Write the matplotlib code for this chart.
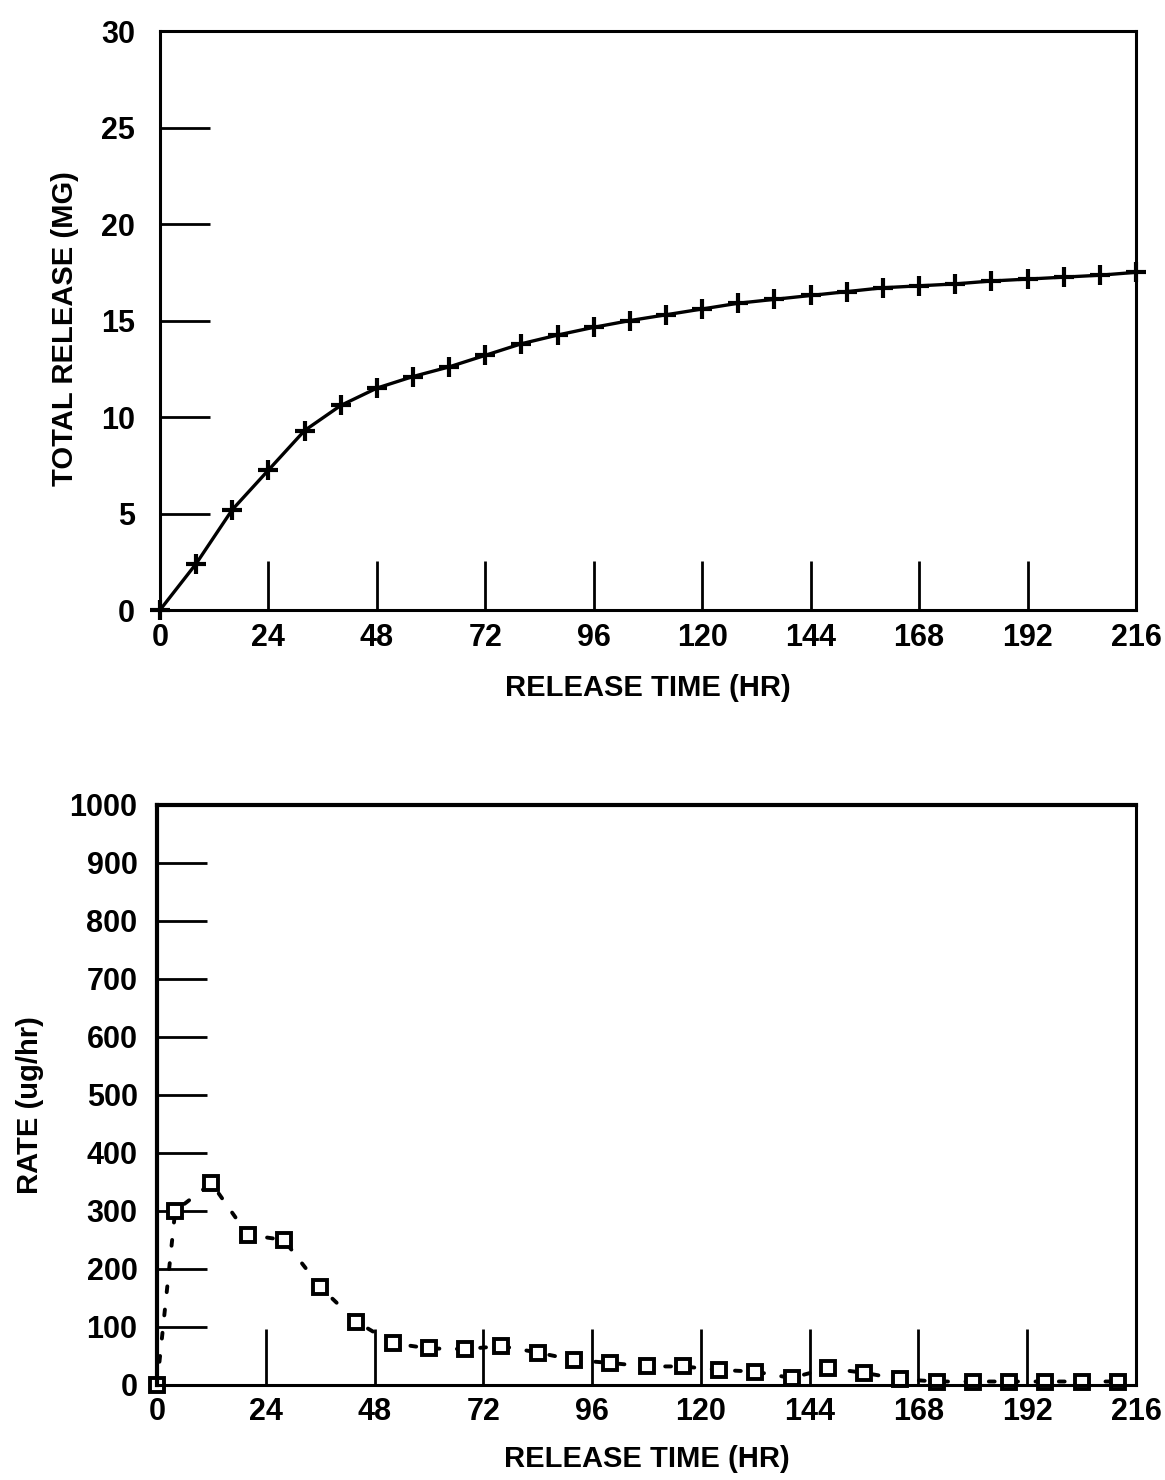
import matplotlib
matplotlib.use("Agg")
import matplotlib.pyplot as plt

# cumulative release, sampled every 8 h
hours_total = [0, 8, 16, 24, 32, 40, 48, 56, 64, 72, 80, 88, 96, 104,
               112, 120, 128, 136, 144, 152, 160, 168, 176, 184, 192, 200, 208, 216]
total_mg = [0, 2.4, 5.2, 7.25, 9.3, 10.6, 11.5, 12.1, 12.6, 13.2, 13.8, 14.25, 14.65, 15.0,
            15.3, 15.6, 15.9, 16.1, 16.3, 16.5, 16.7, 16.8, 16.9, 17.05, 17.15, 17.25, 17.35, 17.5]

# release rate at interval midpoints
hours_rate = [0, 4, 12, 20, 28, 36, 44, 52, 60, 68, 76, 84, 92, 100,
              108, 116, 124, 132, 140, 148, 156, 164, 172, 180, 188, 196, 204, 212]
rate_ug_hr = [0, 300, 348, 259, 250, 169, 109, 72, 63, 62, 67, 56, 43, 38,
              32, 32, 26, 23, 12, 29, 21, 10, 6, 6, 6, 6, 6, 6]

x_ticks = [0, 24, 48, 72, 96, 120, 144, 168, 192, 216]
total_ticks = [0, 5, 10, 15, 20, 25, 30]
rate_ticks = [0, 100, 200, 300, 400, 500, 600, 700, 800, 900, 1000]

plt.rcParams['font.family'] = ['Liberation Sans', 'DejaVu Sans']
plt.rcParams['font.weight'] = 'bold'
plt.rcParams['axes.labelweight'] = 'bold'

FS_TICK = 22
FS_LABEL = 21

fig = plt.figure(figsize=(11.65, 14.80), dpi=100)
ax1 = fig.add_axes([0.1373, 0.5878, 0.8378, 0.3912])
ax2 = fig.add_axes([0.1348, 0.0642, 0.8403, 0.3919])


def style_axes(ax, ylen, xlen, ypad, xpad):
    for side in ['left', 'bottom', 'top', 'right']:
        ax.spines[side].set_linewidth(2.2)
    ax.tick_params(axis='y', direction='in', length=ylen, width=2.0,
                   pad=ypad, labelsize=FS_TICK, right=False)
    ax.tick_params(axis='x', direction='in', length=xlen, width=2.0,
                   pad=xpad, labelsize=FS_TICK, top=False)
    ax.set_xticks(x_ticks)
    ax.set_xlim(0, 216)


# top: total release
ax1.plot(hours_total, total_mg, color='black', lw=2.4, marker='+',
         ms=14, mew=3, clip_on=False)
ax1.set_ylim(0, 30)
ax1.set_yticks(total_ticks)
style_axes(ax1, 36, 35, 18, 9)
ax1.set_xlabel('RELEASE TIME (HR)', fontsize=FS_LABEL, va='center')
ax1.xaxis.set_label_coords(0.5, -0.135)
ax1.set_ylabel('TOTAL RELEASE (MG)', fontsize=FS_LABEL, va='center')
ax1.yaxis.set_label_coords(-0.097, 0.487)

# bottom: release rate
ax2.plot(hours_rate, rate_ug_hr, color='black', lw=2.8, ls=(0, (1.5, 4.5)),
         dash_capstyle='round', marker='s', ms=10, mew=2.8, mfc='white',
         mec='black', clip_on=False)
ax2.set_ylim(0, 1000)
ax2.set_yticks(rate_ticks)
style_axes(ax2, 36, 40, 14, 9)
ax2.spines['top'].set_linewidth(3.0)
ax2.spines['left'].set_linewidth(3.0)
ax2.set_xlabel('RELEASE TIME (HR)', fontsize=FS_LABEL, va='center')
ax2.xaxis.set_label_coords(0.5, -0.128)
ax2.set_ylabel('RATE (ug/hr)', fontsize=FS_LABEL, va='center')
ax2.yaxis.set_label_coords(-0.13, 0.483)

fig.savefig('out.png', dpi=100, facecolor='white')
